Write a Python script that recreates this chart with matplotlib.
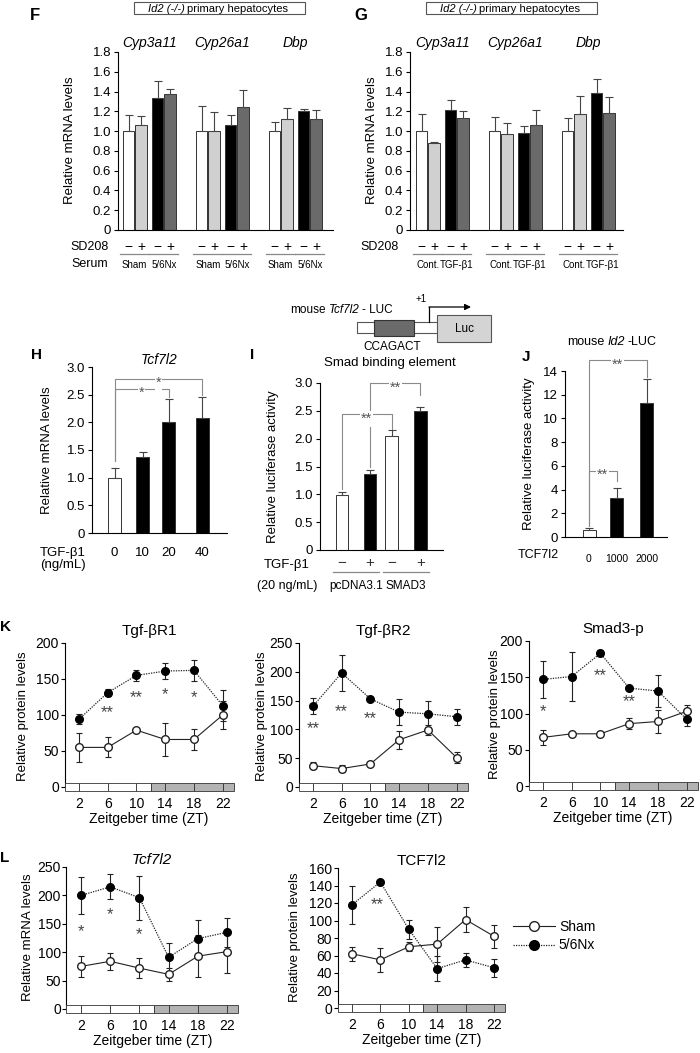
import numpy as np
import matplotlib
matplotlib.use("Agg")
import matplotlib.pyplot as plt
import matplotlib.transforms as mtransforms
from matplotlib.patches import Rectangle
from matplotlib.lines import Line2D
from matplotlib.ticker import FuncFormatter

plt.rcParams["font.family"] = ["Liberation Sans", "DejaVu Sans"]
plt.rcParams["font.size"] = 9
plt.rcParams["axes.linewidth"] = 0.8
plt.rcParams["xtick.major.width"] = 0.8
plt.rcParams["ytick.major.width"] = 0.8

# ---------------- data ----------------
genes = ["Cyp3a11", "Cyp26a1", "Dbp"]
bar_colors = ["white", "#d0d0d0", "black", "#6a6a6a"]

# F: Sham -, Sham +, 5/6Nx -, 5/6Nx + (SD208)
f_mean = [[1.00, 1.06, 1.33, 1.38], [1.00, 1.00, 1.06, 1.24], [1.00, 1.12, 1.20, 1.12]]
f_err = [[0.16, 0.09, 0.18, 0.05], [0.25, 0.19, 0.10, 0.18], [0.09, 0.11, 0.02, 0.09]]
f_pairs = ["Sham", "5/6Nx"]

# G: Cont -, Cont +, TGF -, TGF +
g_mean = [[1.00, 0.88, 1.21, 1.13], [1.00, 0.97, 0.98, 1.06], [1.00, 1.17, 1.39, 1.18]]
g_err = [[0.17, 0.01, 0.10, 0.07], [0.14, 0.11, 0.07, 0.15], [0.13, 0.19, 0.14, 0.17]]
g_pairs = ["Cont.", "TGF-β1"]

# H
h_dose = ["0", "10", "20", "40"]
h_mean = [1.00, 1.38, 2.00, 2.07]
h_err = [0.17, 0.09, 0.43, 0.38]

# I
i_sign = ["−", "+", "−", "+"]
i_mean = [0.98, 1.37, 2.05, 2.49]
i_err = [0.07, 0.06, 0.10, 0.07]
i_pairs = ["pcDNA3.1", "SMAD3"]

# J
j_dose = ["0", "1000", "2000"]
j_mean = [0.62, 3.25, 11.3]
j_err = [0.13, 0.85, 2.0]

# K / L time courses
zt = [2, 6, 10, 14, 18, 22]
r1_sham = [55, 55, 79, 66, 66, 100]
r1_sham_e = [20, 14, 2, 23, 15, 20]
r1_nx = [94, 131, 155, 161, 162, 113]
r1_nx_e = [7, 5, 8, 11, 15, 22]
r1_star_zt, r1_star_y, r1_star_t = [6, 10, 14, 18], [110, 131, 136, 131], ["**", "**", "*", "*"]

r2_sham = [37, 32, 40, 82, 99, 51]
r2_sham_e = [6, 6, 4, 16, 8, 10]
r2_nx = [140, 198, 153, 130, 127, 122]
r2_nx_e = [14, 31, 3, 22, 23, 14]
r2_star_zt, r2_star_y, r2_star_t = [2, 6, 10], [110, 140, 127], ["**", "**", "**"]

s3_sham = [67, 72, 72, 86, 89, 103]
s3_sham_e = [10, 2, 2, 8, 16, 9]
s3_nx = [147, 151, 183, 135, 131, 92]
s3_nx_e = [25, 34, 4, 3, 22, 9]
s3_star_zt, s3_star_y, s3_star_t = [2, 10, 14], [110, 159, 124], ["*", "**", "**"]

l_sham = [75, 84, 72, 61, 93, 101]
l_sham_e = [18, 15, 17, 12, 37, 37]
l_nx = [200, 215, 196, 91, 124, 135]
l_nx_e = [32, 22, 39, 26, 33, 25]
l_star_zt, l_star_y, l_star_t = [2, 6, 10], [145, 175, 140], ["*", "*", "*"]

t_sham = [62, 55, 70, 73, 101, 82]
t_sham_e = [8, 14, 5, 20, 14, 13]
t_nx = [118, 144, 90, 45, 55, 46]
t_nx_e = [22, 2, 11, 14, 8, 10]
t_star_zt, t_star_y, t_star_t = [5.5], [124], ["**"]

# ---------------- figure ----------------
W, H = 700, 1053
fig = plt.figure(figsize=(W / 100, H / 100), dpi=100)
renderer = fig.canvas.get_renderer()

ov = fig.add_axes([0, 0, 1, 1], zorder=5)
ov.set_xlim(0, W)
ov.set_ylim(H, 0)
ov.axis("off")


def px_axes(x0, y0, x1, y1):
    a = fig.add_axes([x0 / W, 1 - y1 / H, (x1 - x0) / W, (y1 - y0) / H])
    a.patch.set_alpha(0)
    return a


def fmt1(x, pos):
    return "0" if abs(x) < 1e-9 else f"{x:.1f}"


def chain(x, y, parts, size, gap=3):
    # pieces of one label set side by side, some of them italic
    for s, style in parts:
        t = ov.text(x, y, s, fontsize=size, style=style, ha="left", va="center")
        x += t.get_window_extent(renderer=renderer).width + gap


def below(ax, x, ypx, s, **kw):
    tr = mtransforms.blended_transform_factory(ax.transData, fig.transFigure)
    ax.text(x, 1 - ypx / H, s, transform=tr, ha="center", va="center", clip_on=False, **kw)


def below_line(ax, xa, xb, ypx):
    tr = mtransforms.blended_transform_factory(ax.transData, fig.transFigure)
    ax.plot([xa, xb], [1 - ypx / H] * 2, transform=tr, color="#888", lw=0.9, clip_on=False)


def star(ax, x, y, s, size=9, color="#555", box=False):
    kw = dict(bbox=dict(fc="white", ec="none", pad=0.6)) if box else {}
    ax.annotate(s, (x, y), xytext=(0, -0.58 * size), textcoords="offset points",
                ha="center", va="baseline", fontsize=size, color=color, annotation_clip=False, **kw)


def bracket(ax, xa, xb, ya, yb, top, s):
    ax.plot([xa, xa, xb, xb], [ya, top, top, yb], color="#8a8a8a", lw=0.8, clip_on=False)
    star(ax, (xa + xb) / 2, top, s, size=10.5, color="#555", box=True)


def bar_axes(ax, top, step, fmt=True):
    for s in ("top", "right"):
        ax.spines[s].set_visible(False)
    ax.set_ylim(0, top)
    ax.set_yticks(np.arange(0, top + step / 2, step))
    if fmt:
        ax.yaxis.set_major_formatter(FuncFormatter(fmt1))
    ax.tick_params(axis="y", length=3, labelsize=9.5, pad=2)
    ax.tick_params(axis="x", length=0)


# ---------------- F and G ----------------
def gene_panel(x0, x1, first, means, errs, pairs):
    ax = px_axes(x0, 52, x1, 230)
    ax.set_xlim(0, x1 - x0)
    bar_axes(ax, 1.8, 0.2)
    ax.set_xticks([])
    xs = np.array([[first + g * 73 + o for o in (0, 12.5, 29, 41.5)] for g in range(3)])
    m = np.ravel(means)
    ax.bar(xs.ravel(), m, width=11.5, color=bar_colors * 3, edgecolor="#333", lw=0.7, zorder=2)
    ax.errorbar(xs.ravel(), m, yerr=[np.zeros(m.size), np.ravel(errs)], fmt="none",
                ecolor="#444", elinewidth=0.8, capsize=3, capthick=0.8, zorder=3)
    for g in range(3):
        below(ax, xs[g, 1:3].mean(), 43, genes[g], fontsize=10, style="italic")
        for k in range(4):
            below(ax, xs[g, k], 247, "−" if k % 2 == 0 else "+", fontsize=10)
        for p in range(2):
            below_line(ax, xs[g, 2 * p] - 8.5, xs[g, 2 * p + 1] + 7.5, 254)
            below(ax, xs[g, 2 * p:2 * p + 2].mean(), 265, pairs[p], fontsize=7)
    return ax


gene_panel(118, 333, 10.5, f_mean, f_err, f_pairs)
gene_panel(410, 623, 11.5, g_mean, g_err, g_pairs)

for bx in (134, 426):
    ov.add_patch(Rectangle((bx, 2), 171, 12, fill=False, ec="#555", lw=0.8))
    chain(bx + 14, 8.5, [("Id2 (-/-)", "italic"), ("primary hepatocytes", "normal")], 8, gap=2)

ov.text(35, 16, "F", fontsize=12, weight="bold", ha="center", va="center")
ov.text(361, 16, "G", fontsize=12, weight="bold", ha="center", va="center")
ov.text(70, 140, "Relative mRNA levels", rotation=90, fontsize=9.5, ha="center", va="center")
ov.text(372, 140, "Relative mRNA levels", rotation=90, fontsize=9.5, ha="center", va="center")
ov.text(90, 247, "SD208", fontsize=9, ha="center", va="center")
ov.text(90, 264, "Serum", fontsize=9, ha="center", va="center")
ov.text(380, 247, "SD208", fontsize=9, ha="center", va="center")

# ---------------- H ----------------
ax = px_axes(92, 367, 227, 533)
ax.set_xlim(0, 135)
bar_axes(ax, 3.0, 0.5)
h_x = [22.5, 50.5, 76.5, 110]
ax.bar(h_x, h_mean, width=13, color=["white", "black", "black", "black"], edgecolor="#333", lw=0.7, zorder=2)
ax.errorbar(h_x, h_mean, yerr=[np.zeros(4), h_err], fmt="none", ecolor="#444",
            elinewidth=0.8, capsize=3, capthick=0.8, zorder=3)
ax.set_xticks(h_x, h_dose, fontsize=9.5)
ax.tick_params(axis="x", pad=10)
bracket(ax, h_x[0], h_x[2], 1.3, 2.45, 2.61, "*")
bracket(ax, h_x[0], h_x[3], 1.3, 2.49, 2.79, "*")
ax.set_title("Tcf7l2", style="italic", fontsize=10, pad=1)
ov.text(37, 355, "H", fontsize=11, weight="bold", ha="center", va="center")
ov.text(47, 450, "Relative mRNA levels", rotation=90, fontsize=9.5, ha="center", va="center")
ov.text(63, 553, "TGF-β1", fontsize=9.5, ha="center", va="center")
ov.text(63, 565, "(ng/mL)", fontsize=9.5, ha="center", va="center")

# ---------------- I ----------------
ax = px_axes(320, 383, 443, 550)
ax.set_xlim(0, 123)
bar_axes(ax, 3.0, 0.5)
ax.set_xticks([])
i_x = [22, 50, 71.7, 100.3]
ax.bar(i_x, i_mean, width=12.5, color=["white", "black", "white", "black"], edgecolor="#333", lw=0.7, zorder=2)
ax.errorbar(i_x, i_mean, yerr=[np.zeros(4), i_err], fmt="none", ecolor="#444",
            elinewidth=0.8, capsize=3, capthick=0.8, zorder=3)
bracket(ax, i_x[0], i_x[2], 1.1, 2.16, 2.44, "**")
bracket(ax, i_x[1], i_x[3], 1.5, 2.79, 3.0, "**")
for k in range(4):
    below(ax, i_x[k], 563, i_sign[k], fontsize=11, color="#333")
for p in range(2):
    below_line(ax, i_x[2 * p] - 9, i_x[2 * p + 1] + 9, 572)
    below(ax, (i_x[2 * p] + i_x[2 * p + 1]) / 2, 586, i_pairs[p], fontsize=8.5)
ov.text(252, 355, "I", fontsize=11, weight="bold", ha="center", va="center")
ov.text(273, 467, "Relative luciferase activity", rotation=90, fontsize=9.5, ha="center", va="center")
ov.text(287, 565, "TGF-β1", fontsize=9.5, ha="center", va="center")
ov.text(287, 586, "(20 ng/mL)", fontsize=9, ha="center", va="center")

# promoter diagram
ov.add_patch(Rectangle((357, 322), 81, 11, fc="white", ec="#555", lw=0.8))
ov.add_patch(Rectangle((374, 320), 40, 16, fc="#6b6b6b", ec="#333", lw=0.8))
ov.add_patch(Rectangle((437, 315), 54, 27, fc="#d4d4d4", ec="#555", lw=0.8))
ov.text(464, 329, "Luc", fontsize=8.5, ha="center", va="center")
ov.plot([429, 429], [322, 307], color="black", lw=0.9)
ov.annotate("", xy=(471, 307), xytext=(429, 307),
            arrowprops=dict(arrowstyle="-|>", color="black", lw=0.9, mutation_scale=9, shrinkA=0, shrinkB=0))
ov.text(421, 299, "+1", fontsize=7, ha="center", va="center")
chain(290, 310, [("mouse", "normal"), ("Tcf7l2", "italic"), ("- LUC", "normal")], 8.5)
ov.text(392, 347, "CCAGACT", fontsize=8.5, ha="center", va="center")
ov.text(390, 363, "Smad binding element", fontsize=9.5, ha="center", va="center")

# ---------------- J ----------------
ax = px_axes(565, 371, 667, 537)
ax.set_xlim(0, 102)
bar_axes(ax, 14, 2, fmt=False)
j_x = [24, 51.5, 81.5]
ax.bar(j_x, j_mean, width=13, color=["white", "black", "black"], edgecolor="#333", lw=0.7, zorder=2)
ax.errorbar(j_x, j_mean, yerr=[np.zeros(3), j_err], fmt="none", ecolor="#444",
            elinewidth=0.8, capsize=3, capthick=0.8, zorder=3)
ax.set_xticks(j_x, j_dose, fontsize=7.5)
ax.tick_params(axis="x", pad=12)
bracket(ax, j_x[0], j_x[2], 0.9, 13.5, 14.9, "**")
bracket(ax, j_x[0], j_x[1], 0.9, 4.7, 5.6, "**")
ov.text(526, 357, "J", fontsize=11, weight="bold", ha="center", va="center")
ov.text(529, 454, "Relative luciferase activity", rotation=90, fontsize=9.5, ha="center", va="center")
ov.text(538, 555, "TCF7l2", fontsize=9, ha="center", va="center")
chain(567, 342, [("mouse", "normal"), ("Id2", "italic"), ("-LUC", "normal")], 9)


# ---------------- K and L ----------------
def zt_panel(x0, x1, ytop, yzero, top, step, sham, sham_e, nx, nx_e, stars, title, italic=False, tpad=6):
    ax = px_axes(x0, ytop, x1, yzero + 4)
    h = top * 4 / (yzero - ytop)
    ax.set_xlim(0, 23.5)
    ax.set_ylim(-h, top)
    for s in ("top", "right", "bottom"):
        ax.spines[s].set_visible(False)
    ax.spines["left"].set_bounds(0, top)
    bounds = [0, 2, 6, 10, 12, 14, 18, 22, 23.5]
    for a, b in zip(bounds[:-1], bounds[1:]):
        ax.add_patch(Rectangle((a, -h), b - a, 2 * h, fc="white" if b <= 12 else "#b3b3b3",
                               ec="#333", lw=0.6, clip_on=False, zorder=4))
    ax.set_yticks(np.arange(0, top + step / 2, step))
    ax.tick_params(axis="y", length=3, labelsize=10, pad=1)
    ax.set_xticks(zt, [str(z) for z in zt])
    ax.tick_params(axis="x", length=0, labelsize=10, pad=4)
    ax.set_xlabel("Zeitgeber time (ZT)", fontsize=10, labelpad=1)
    ax.errorbar(zt, sham, yerr=sham_e, fmt="-o", color="#222", mfc="white", mec="#222", ms=5.5,
                lw=0.8, elinewidth=0.8, capsize=2.5, capthick=0.8, zorder=3)
    ax.errorbar(zt, nx, yerr=nx_e, fmt="o", ls=(0, (1, 1)), color="#222", mfc="black", mec="black",
                ms=5.5, lw=0.9, elinewidth=0.8, capsize=2.5, capthick=0.8, zorder=3)
    for zs, ys, ts in zip(*stars):
        star(ax, zs, ys, ts, size=12, color="#444")
    ax.set_title(title, fontsize=11, style="italic" if italic else "normal", pad=tpad)
    return ax


zt_panel(64.5, 233.5, 643, 787, 200, 50, r1_sham, r1_sham_e, r1_nx, r1_nx_e,
         (r1_star_zt, r1_star_y, r1_star_t), "Tgf-βR1")
zt_panel(298.5, 467.5, 643, 787, 250, 50, r2_sham, r2_sham_e, r2_nx, r2_nx_e,
         (r2_star_zt, r2_star_y, r2_star_t), "Tgf-βR2")
zt_panel(528.5, 697.5, 641, 786, 200, 50, s3_sham, s3_sham_e, s3_nx, s3_nx_e,
         (s3_star_zt, s3_star_y, s3_star_t), "Smad3-p")
zt_panel(66.4, 238, 867, 1009, 250, 50, l_sham, l_sham_e, l_nx, l_nx_e,
         (l_star_zt, l_star_y, l_star_t), "Tcf7l2", italic=True, tpad=1)
zt_panel(337.8, 504.6, 868, 1008, 160, 20, t_sham, t_sham_e, t_nx, t_nx_e,
         (t_star_zt, t_star_y, t_star_t), "TCF7l2", tpad=1)

ov.text(0, 627, "K", fontsize=11, weight="bold", ha="left", va="center")
ov.text(0, 858, "L", fontsize=11, weight="bold", ha="left", va="center")
for lx, ly in ((23, 716), (262, 716), (495, 714)):
    ov.text(lx, ly, "Relative protein levels", rotation=90, fontsize=9.5, ha="center", va="center")
ov.text(28, 937, "Relative mRNA levels", rotation=90, fontsize=9.5, ha="center", va="center")
ov.text(295, 937, "Relative protein levels", rotation=90, fontsize=9.5, ha="center", va="center")

handles = [Line2D([], [], color="#222", lw=0.8, marker="o", mfc="white", mec="#222", ms=7),
           Line2D([], [], color="#222", lw=0.9, ls=(0, (1, 1)), marker="o", mfc="black", mec="black", ms=7)]
fig.legend(handles, ["Sham", "5/6Nx"], loc="center left", bbox_to_anchor=(513 / W, 1 - 936 / H),
           frameon=False, fontsize=10, handlelength=3.0, handletextpad=0.3, labelspacing=0.35,
           borderpad=0, borderaxespad=0)

fig.savefig("out.png", dpi=100)
